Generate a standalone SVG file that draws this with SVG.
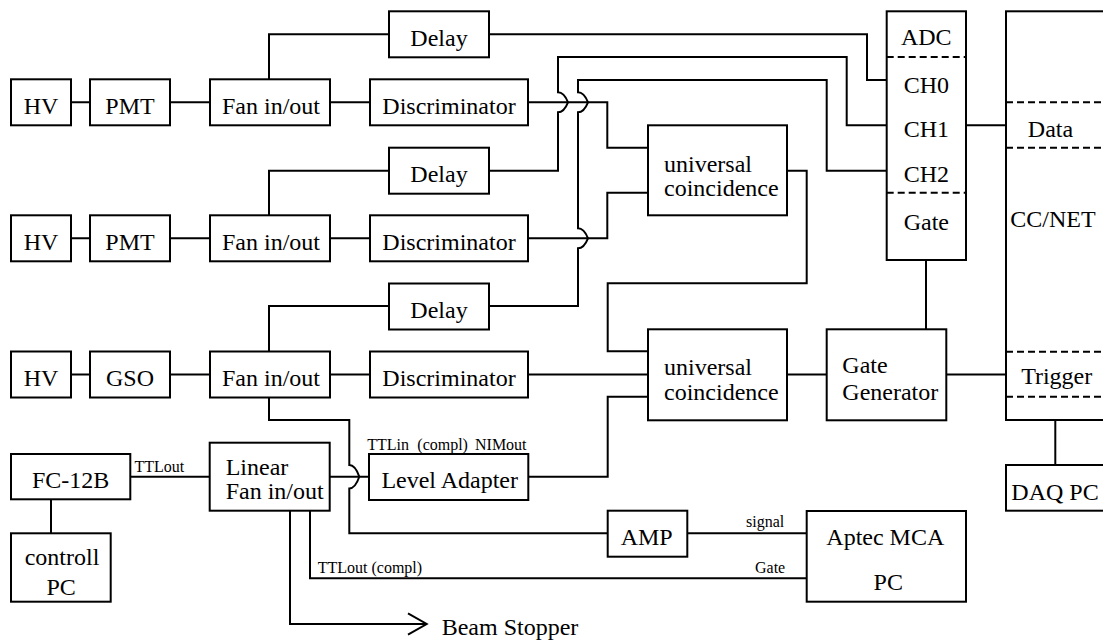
<svg xmlns="http://www.w3.org/2000/svg" width="1103" height="641" viewBox="0 0 1103 641">
  <style>
    .box { fill: #fff; stroke: #000; stroke-width: 2; }
    .wire { fill: none; stroke: #000; stroke-width: 2; }
    .dash { fill: none; stroke: #000; stroke-width: 2; stroke-dasharray: 7 4; }
    text { font-family: "Liberation Serif", "Times New Roman", serif; fill: #000; }
    .t { font-size: 24px; text-anchor: middle; }
    .l { text-anchor: start; }
    .s { font-size: 16px; }
  </style>
  <rect width="1103" height="641" fill="#fff"/>

  <!-- signal wiring -->
  <g id="connectors">
    <!-- row 1 -->
    <path class="wire" d="M71,102.3 H90 M170,102.3 H210 M330,102.3 H370"/>
    <path class="wire" d="M269,79.3 V34.3 H389"/>
    <path class="wire" d="M489,34.3 H867 V80 H887"/>
    <path class="wire" d="M528,102.3 H607.3 V147.7 H648"/>
    <!-- row 2 -->
    <path class="wire" d="M71,238.3 H90 M170,238.3 H210 M330,238.3 H370"/>
    <path class="wire" d="M269,215.3 V170.7 H389"/>
    <path class="wire" d="M489,170.7 H558 V112.3 Q564,112.3 568,102.3 Q564,92.3 558,92.3 V57 H846.7 V125.3 H887"/>
    <path class="wire" d="M528,238.3 H607.3 V192.7 H648"/>
    <!-- row 3 -->
    <path class="wire" d="M71,374.5 H90 M170,374.5 H210 M330,374.5 H370"/>
    <path class="wire" d="M269,351.5 V306 H389"/>
    <path class="wire" d="M489,306 H578 V248.3 Q584,248.3 588,238.3 Q584,228.3 578,228.3 V112.3 Q584,112.3 588,102.3 Q584,92.3 578,92.3 V80 H826.7 V170.7 H887"/>
    <path class="wire" d="M528,374.5 H648"/>
    <!-- coincidence chain -->
    <path class="wire" d="M787,170.7 H806.7 V283.3 H607.7 V351.3 H648"/>
    <path class="wire" d="M528.3,476.7 H607.7 V396.7 H648"/>
    <path class="wire" d="M787,374.5 H826.7"/>
    <path class="wire" d="M926,329.3 V260"/>
    <path class="wire" d="M946.3,374.5 H1006"/>
    <path class="wire" d="M966,125.3 H1006"/>
    <path class="wire" d="M1055.3,420 V465"/>
    <!-- beam monitor / MCA branch -->
    <path class="wire" d="M269,397.5 V420 H349.3 V465 Q355.3,465 359.3,476.7 Q355.3,488.4 349.3,488.4 V533.3 H607.7"/>
    <path class="wire" d="M687.3,533.3 H806.7"/>
    <path class="wire" d="M310,510.7 V578.3 H806.7"/>
    <path class="wire" d="M290,510.7 V624 H426.7 M408,613.3 L426.7,624 L408,634.7"/>
    <path class="wire" d="M130.3,476.7 H209.7"/>
    <path class="wire" d="M51,499.3 V533.3"/>
    <path class="wire" d="M329.7,476.7 H369"/>
    <!-- wire labels -->
    <text class="s" x="134.5" y="472">TTLout</text>
    <text class="s" y="450"><tspan x="367.3">TTLin</tspan><tspan x="417.3">(compl)</tspan><tspan x="475">NIMout</tspan></text>
    <text class="s" x="746" y="527">signal</text>
    <text class="s" x="755" y="573">Gate</text>
    <text class="s" x="317.7" y="572.5">TTLout (compl)</text>
    <text class="t l" x="441.7" y="635">Beam Stopper</text>
  </g>

  <!-- row 1 -->
  <g id="hv1"><rect class="box" x="11" y="79.3" width="60" height="46"/><text class="t" x="41" y="113.8">HV</text></g>
  <g id="pmt1"><rect class="box" x="90" y="79.3" width="80" height="46"/><text class="t" x="130" y="113.8">PMT</text></g>
  <g id="fan1"><rect class="box" x="210" y="79.3" width="120" height="46"/><text class="t" x="271" y="113.8">Fan in/out</text></g>
  <g id="disc1"><rect class="box" x="370" y="79.3" width="158" height="46"/><text class="t" x="449" y="113.8">Discriminator</text></g>
  <g id="delay1"><rect class="box" x="389" y="11.3" width="100" height="46"/><text class="t" x="439" y="46">Delay</text></g>

  <!-- row 2 -->
  <g id="hv2"><rect class="box" x="11" y="215.3" width="60" height="46"/><text class="t" x="41" y="249.8">HV</text></g>
  <g id="pmt2"><rect class="box" x="90" y="215.3" width="80" height="46"/><text class="t" x="130" y="249.8">PMT</text></g>
  <g id="fan2"><rect class="box" x="210" y="215.3" width="120" height="46"/><text class="t" x="271" y="249.8">Fan in/out</text></g>
  <g id="disc2"><rect class="box" x="370" y="215.3" width="158" height="46"/><text class="t" x="449" y="249.8">Discriminator</text></g>
  <g id="delay2"><rect class="box" x="389" y="147.7" width="100" height="46"/><text class="t" x="439" y="182.4">Delay</text></g>

  <!-- row 3 -->
  <g id="hv3"><rect class="box" x="11" y="351.5" width="60" height="46"/><text class="t" x="41" y="386">HV</text></g>
  <g id="gso"><rect class="box" x="90" y="351.5" width="80" height="46"/><text class="t" x="130" y="386">GSO</text></g>
  <g id="fan3"><rect class="box" x="210" y="351.5" width="120" height="46"/><text class="t" x="271" y="386">Fan in/out</text></g>
  <g id="disc3"><rect class="box" x="370" y="351.5" width="158" height="46"/><text class="t" x="449" y="386">Discriminator</text></g>
  <g id="delay3"><rect class="box" x="389" y="283.5" width="100" height="46"/><text class="t" x="439" y="318">Delay</text></g>

  <!-- coincidence units -->
  <g id="coinc1"><rect class="box" x="648" y="125.3" width="139" height="90"/>
    <text class="t l" x="664" y="171.7">universal</text>
    <text class="t l" x="664" y="196">coincidence</text></g>
  <g id="coinc2"><rect class="box" x="648" y="329.3" width="139" height="91"/>
    <text class="t l" x="664" y="375">universal</text>
    <text class="t l" x="664" y="399.5">coincidence</text></g>
  <g id="gategen"><rect class="box" x="826.7" y="329.3" width="119.6" height="91"/>
    <text class="t l" x="842.3" y="372.7">Gate</text>
    <text class="t l" x="842.3" y="399.7">Generator</text></g>

  <!-- ADC -->
  <g id="adc"><rect class="box" x="886.7" y="11.3" width="79.3" height="248.7"/>
    <path class="dash" d="M886.7,57 H966 M886.7,192.7 H966"/>
    <text class="t" x="926.3" y="45">ADC</text>
    <text class="t" x="926.3" y="93">CH0</text>
    <text class="t" x="926.3" y="136.7">CH1</text>
    <text class="t" x="926.3" y="181.7">CH2</text>
    <text class="t" x="926.3" y="229.5">Gate</text></g>

  <!-- CC/NET -->
  <g id="ccnet"><rect class="box" x="1006" y="11.3" width="110" height="408.7"/>
    <path class="dash" d="M1006,102.3 H1103 M1006,147.7 H1103 M1006,351.7 H1103 M1006,396.7 H1103"/>
    <text class="t" x="1050.5" y="136.7">Data</text>
    <text class="t" x="1053" y="226.7">CC/NET</text>
    <text class="t" x="1056.7" y="384">Trigger</text></g>
  <g id="daqpc"><rect class="box" x="1006" y="465" width="110" height="45.7"/>
    <text class="t" x="1055" y="500">DAQ PC</text></g>

  <!-- beam monitor -->
  <g id="fc12b"><rect class="box" x="11" y="454" width="119.3" height="45.3"/>
    <text class="t" x="70.7" y="488.3">FC-12B</text></g>
  <g id="controlpc"><rect class="box" x="11" y="533.3" width="99.7" height="68.4"/>
    <text class="t" x="62" y="565">controll</text>
    <text class="t" x="61.2" y="595">PC</text></g>
  <g id="linearfan"><rect class="box" x="209.7" y="442.7" width="120" height="68"/>
    <text class="t l" x="225.7" y="475">Linear</text>
    <text class="t l" x="225.7" y="499.3">Fan in/out</text></g>
  <g id="leveladapter"><rect class="box" x="369" y="454" width="159.3" height="46"/>
    <text class="t" x="449.7" y="488.3">Level Adapter</text></g>
  <g id="amp"><rect class="box" x="607.7" y="510.7" width="79.6" height="46"/>
    <text class="t" x="646.7" y="545">AMP</text></g>
  <g id="aptec"><rect class="box" x="806.7" y="511" width="159.3" height="90.7"/>
    <text class="t" x="885.3" y="545">Aptec MCA</text>
    <text class="t" x="888.3" y="590">PC</text></g>
</svg>
